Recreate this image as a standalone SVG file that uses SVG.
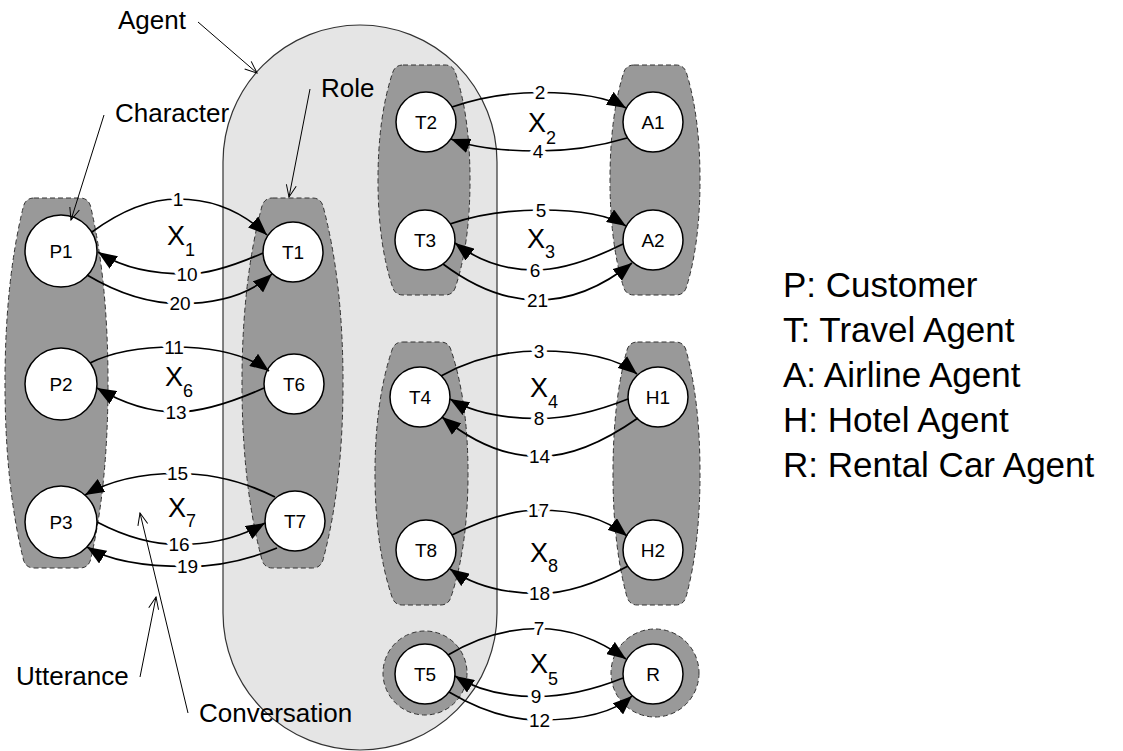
<svg xmlns="http://www.w3.org/2000/svg" width="1123" height="751" viewBox="0 0 1123 751">
<style>
text{font-family:"Liberation Sans",Arial,sans-serif;fill:#000}
.agent{fill:#e5e5e5;stroke:#333;stroke-width:1.2}
.grp{fill:#999;stroke:#333;stroke-width:1;stroke-dasharray:5 3}
.nd{fill:#fff;stroke:#000;stroke-width:1.5}
.nl{font-size:19px;text-anchor:middle}
.e{fill:none;stroke:#000;stroke-width:1.7;marker-end:url(#ah)}
.el{font-size:19px;text-anchor:middle;stroke:#fff;stroke-width:8;paint-order:stroke;stroke-linejoin:round}
.xl{font-size:27px}
.ann{font-size:26px}
.ptr{fill:none;stroke:#000;stroke-width:1;marker-end:url(#oh)}
.leg{font-size:35px}
</style>
<defs>
<marker id="ah" markerUnits="userSpaceOnUse" markerWidth="19" markerHeight="15" viewBox="0 0 19 15" refX="19" refY="7.5" orient="auto"><path d="M0,0 L19,7.5 L0,15 Z" fill="#000"/></marker>
<marker id="oh" markerUnits="userSpaceOnUse" markerWidth="14" markerHeight="12" viewBox="0 0 14 12" refX="13" refY="6" orient="auto"><path d="M1,1 L13,6 L1,11" fill="none" stroke="#000" stroke-width="1"/></marker>
</defs>
<rect width="1123" height="751" fill="#fff"/>
<g id="agent"><rect class="agent" x="223" y="25" width="274" height="725" rx="137" ry="137"/></g>
<g id="roles">
<path id="col-P" class="grp" d="M34,198 L80,198 Q88,198 90.5,206 Q108,281 108,383 Q108,485 90.5,560 Q88,568 80,568 L34,568 Q26,568 23.5,560 Q5,485 5,383 Q5,281 23.5,206 Q26,198 34,198 Z"/>
<path id="col-T1" class="grp" d="M272.5,198 L312.5,198 Q320.5,198 323,206 Q343,281 343,383 Q343,485 323,560 Q320.5,568 312.5,568 L272.5,568 Q264.5,568 262,560 Q242,485 242,383 Q242,281 262,206 Q264.5,198 272.5,198 Z"/>
<path id="col-T2" class="grp" d="M403,65 L445,65 Q453,65 455.5,73 Q470,117 470,180 Q470,243 455.5,287 Q453,295 445,295 L403,295 Q395,295 392.5,287 Q378,243 378,180 Q378,117 392.5,73 Q395,65 403,65 Z"/>
<path id="col-A" class="grp" d="M634,65 L676,65 Q684,65 686.5,73 Q700,117 700,180 Q700,243 686.5,287 Q684,295 676,295 L634,295 Q626,295 623.5,287 Q610,243 610,180 Q610,117 623.5,73 Q626,65 634,65 Z"/>
<path id="col-T4" class="grp" d="M402.5,342 L440.5,342 Q448.5,342 451,350 Q468,401 468,473.5 Q468,546 451,597 Q448.5,605 440.5,605 L402.5,605 Q394.5,605 392,597 Q375,546 375,473.5 Q375,401 392,350 Q394.5,342 402.5,342 Z"/>
<path id="col-H" class="grp" d="M637.5,342 L675.5,342 Q683.5,342 686,350 Q700,401 700,473.5 Q700,546 686,597 Q683.5,605 675.5,605 L637.5,605 Q629.5,605 627,597 Q613,546 613,473.5 Q613,401 627,350 Q629.5,342 637.5,342 Z"/>
<circle id="col-T5" class="grp" cx="425" cy="673" r="42"/>
<circle id="col-R" class="grp" cx="655" cy="673" r="44"/>
</g>
<g id="P1"><circle class="nd" cx="61" cy="251" r="36"/><text class="nl" x="61" y="258">P1</text></g>
<g id="P2"><circle class="nd" cx="61" cy="384" r="36"/><text class="nl" x="61" y="391">P2</text></g>
<g id="P3"><circle class="nd" cx="61" cy="522" r="36"/><text class="nl" x="61" y="529">P3</text></g>
<g id="T1"><circle class="nd" cx="293" cy="252" r="30"/><text class="nl" x="293" y="259">T1</text></g>
<g id="T6"><circle class="nd" cx="294" cy="384" r="30"/><text class="nl" x="294" y="391">T6</text></g>
<g id="T7"><circle class="nd" cx="295" cy="521" r="30"/><text class="nl" x="295" y="528">T7</text></g>
<g id="T2"><circle class="nd" cx="426" cy="122" r="30"/><text class="nl" x="426" y="129">T2</text></g>
<g id="T3"><circle class="nd" cx="425" cy="240" r="30"/><text class="nl" x="425" y="247">T3</text></g>
<g id="A1"><circle class="nd" cx="653" cy="122" r="30"/><text class="nl" x="653" y="129">A1</text></g>
<g id="A2"><circle class="nd" cx="653" cy="240" r="30"/><text class="nl" x="653" y="247">A2</text></g>
<g id="T4"><circle class="nd" cx="420" cy="397" r="30"/><text class="nl" x="420" y="404">T4</text></g>
<g id="H1"><circle class="nd" cx="658" cy="397" r="30"/><text class="nl" x="658" y="404">H1</text></g>
<g id="T8"><circle class="nd" cx="426" cy="550" r="30"/><text class="nl" x="426" y="557">T8</text></g>
<g id="H2"><circle class="nd" cx="653" cy="550" r="30"/><text class="nl" x="653" y="557">H2</text></g>
<g id="T5"><circle class="nd" cx="425" cy="674" r="30"/><text class="nl" x="425" y="681">T5</text></g>
<g id="R"><circle class="nd" cx="653" cy="674" r="30"/><text class="nl" x="653" y="681">R</text></g>
<g id="connectors">
<path class="e" d="M92,232 Q137,199 178,199 Q229,199 267,235"/>
<path class="e" d="M263,253 Q215,274 187,274 Q131,274 98,252"/>
<path class="e" d="M87,275 Q135,303.5 180,303.5 Q240,303.5 272,274"/>
<path class="e" d="M90,363 Q122,347 174,347 Q236,347 269,371"/>
<path class="e" d="M264,388 Q210,412 176,412 Q138,412 97,388"/>
<path class="e" d="M275,497 Q228,473.5 177.5,473.5 Q122,473.5 85,495"/>
<path class="e" d="M97,522 Q140,544.5 179,544.5 Q228,544.5 265,523"/>
<path class="e" d="M277,548 Q231,566.5 187.5,566.5 Q118,566.5 87,547"/>
<path class="e" d="M452,107 Q493,92.5 540,92.5 Q600,92.5 626,108"/>
<path class="e" d="M627,138 Q584,151 538,151 Q482,151 451,139"/>
<path class="e" d="M450,224 Q490,210 541,210 Q601,210 626,226"/>
<path class="e" d="M623,244 Q571,270 535,270 Q490,270 455,243"/>
<path class="e" d="M443,264 Q491,300 537.5,300 Q586,300 632,263"/>
<path class="e" d="M441,376 Q486,351 539,351 Q609,351 637,374"/>
<path class="e" d="M628,399 Q579,418.5 539,418.5 Q483,418.5 450,399"/>
<path class="e" d="M638,418 Q583,456.5 539.5,456.5 Q490,456.5 442,417"/>
<path class="e" d="M452,535 Q502,510 538.5,510 Q595,510 627,536"/>
<path class="e" d="M628,566 Q578,593.5 539.5,593.5 Q485,593.5 450,569"/>
<path class="e" d="M448,655 Q492,628.5 539,628.5 Q583,628.5 626,659"/>
<path class="e" d="M623,678 Q577,696.5 536,696.5 Q487,696.5 455,676"/>
<path class="e" d="M449,692 Q496,720 539.5,720 Q606,720 632,696"/>
<text class="el" x="178" y="206">1</text>
<text class="el" x="187" y="281">10</text>
<text class="el" x="180" y="310">20</text>
<text class="el" x="174" y="354">11</text>
<text class="el" x="176" y="419">13</text>
<text class="el" x="177.5" y="480">15</text>
<text class="el" x="179" y="551">16</text>
<text class="el" x="187.5" y="573">19</text>
<text class="el" x="540" y="99">2</text>
<text class="el" x="538" y="158">4</text>
<text class="el" x="541" y="217">5</text>
<text class="el" x="535" y="277">6</text>
<text class="el" x="537.5" y="307">21</text>
<text class="el" x="539" y="358">3</text>
<text class="el" x="539" y="425">8</text>
<text class="el" x="539.5" y="463">14</text>
<text class="el" x="538.5" y="517">17</text>
<text class="el" x="539.5" y="600">18</text>
<text class="el" x="539" y="635">7</text>
<text class="el" x="536" y="703">9</text>
<text class="el" x="539.5" y="727">12</text>
</g>
<g id="conversations">
<text class="xl" x="167" y="245">X<tspan font-size="18" dy="11">1</tspan></text>
<text class="xl" x="165" y="386">X<tspan font-size="18" dy="11">6</tspan></text>
<text class="xl" x="168" y="517">X<tspan font-size="18" dy="10">7</tspan></text>
<text class="xl" x="528" y="132">X<tspan font-size="18" dy="12">2</tspan></text>
<text class="xl" x="527" y="248">X<tspan font-size="18" dy="10">3</tspan></text>
<text class="xl" x="530" y="397">X<tspan font-size="18" dy="11">4</tspan></text>
<text class="xl" x="530" y="562">X<tspan font-size="18" dy="10">8</tspan></text>
<text class="xl" x="530" y="673">X<tspan font-size="18" dy="12">5</tspan></text>
</g>
<g id="annotations">
<text class="ann" x="118" y="29">Agent</text>
<path class="ptr" d="M198,22 L257,73"/>
<text class="ann" x="115" y="122">Character</text>
<path class="ptr" d="M104,115 L71,220"/>
<text class="ann" x="321" y="97">Role</text>
<path class="ptr" d="M310,89 L289,197"/>
<text class="ann" x="16" y="685">Utterance</text>
<path class="ptr" d="M140,677 L156,597"/>
<text class="ann" x="199" y="722">Conversation</text>
<path class="ptr" d="M188,713 L140,513"/>
</g>
<g id="legend">
<text class="leg" x="783" y="297">P: Customer</text>
<text class="leg" x="783" y="342">T: Travel Agent</text>
<text class="leg" x="783" y="387">A: Airline Agent</text>
<text class="leg" x="783" y="432">H: Hotel Agent</text>
<text class="leg" x="783" y="477">R: Rental Car Agent</text>
</g>
</svg>
